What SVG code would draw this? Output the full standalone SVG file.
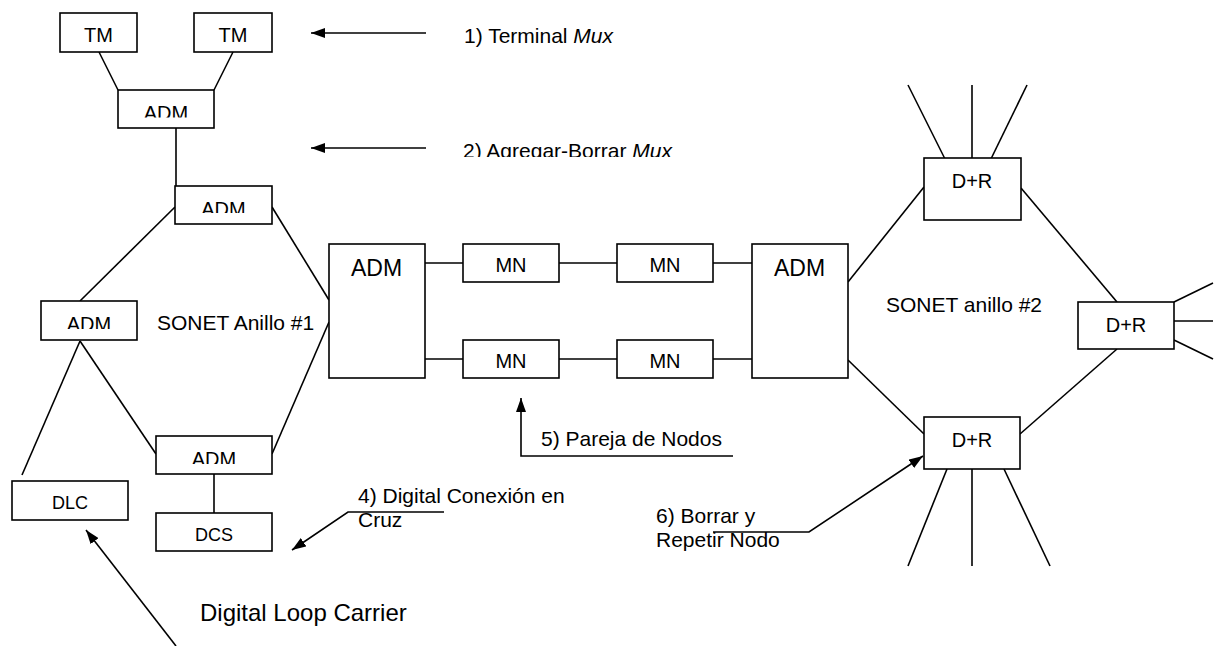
<svg xmlns="http://www.w3.org/2000/svg" width="1222" height="646" viewBox="0 0 1222 646">
<style>
.box{fill:#fff;stroke:#000;stroke-width:1.6}
.ln{fill:none;stroke:#000;stroke-width:1.6}
.t{font-family:"Liberation Sans",Arial,sans-serif;fill:#000}
.n{font-size:20px;text-anchor:middle}
.s{font-size:18px;text-anchor:middle}
.b{font-size:23px}
.l{font-size:21px}
</style>
<defs>
<marker id="ah" markerUnits="userSpaceOnUse" markerWidth="15" markerHeight="10" refX="14" refY="5" orient="auto">
<path d="M0,0 L14,5 L0,10 z" fill="#000"/>
</marker>
<clipPath id="c1" clipPathUnits="userSpaceOnUse"><rect x="118" y="90" width="96" height="27.5"/></clipPath>
<clipPath id="c2" clipPathUnits="userSpaceOnUse"><rect x="175" y="186" width="97" height="27"/></clipPath>
<clipPath id="c3" clipPathUnits="userSpaceOnUse"><rect x="41" y="301" width="96" height="28"/></clipPath>
<clipPath id="c4" clipPathUnits="userSpaceOnUse"><rect x="156" y="436" width="116" height="28"/></clipPath>
<clipPath id="c5" clipPathUnits="userSpaceOnUse"><rect x="440" y="120" width="300" height="37"/></clipPath>
</defs>
<rect width="1222" height="646" fill="#fff"/>
<g id="connectors">
<line class="ln" x1="99" y1="52" x2="118" y2="90"/>
<line class="ln" x1="233" y1="52" x2="214" y2="90"/>
<line class="ln" x1="176" y1="128" x2="176" y2="186"/>
<line class="ln" x1="175" y1="207" x2="80" y2="301"/>
<line class="ln" x1="272" y1="207" x2="329" y2="300"/>
<line class="ln" x1="80" y1="341" x2="22" y2="475"/>
<line class="ln" x1="80" y1="341" x2="156" y2="454"/>
<line class="ln" x1="272" y1="454" x2="329" y2="322"/>
<line class="ln" x1="214" y1="474" x2="214" y2="513"/>
<line class="ln" x1="425" y1="263" x2="463" y2="263"/>
<line class="ln" x1="559" y1="263" x2="617" y2="263"/>
<line class="ln" x1="713" y1="263" x2="752" y2="263"/>
<line class="ln" x1="425" y1="359" x2="463" y2="359"/>
<line class="ln" x1="559" y1="359" x2="617" y2="359"/>
<line class="ln" x1="713" y1="359" x2="752" y2="359"/>
<line class="ln" x1="848" y1="282" x2="924" y2="187"/>
<line class="ln" x1="848" y1="360" x2="924" y2="434"/>
<line class="ln" x1="1021" y1="188" x2="1117" y2="302"/>
<line class="ln" x1="1020" y1="434" x2="1117" y2="349"/>
<line class="ln" x1="947" y1="163" x2="908" y2="85"/>
<line class="ln" x1="972" y1="160" x2="972" y2="85"/>
<line class="ln" x1="989" y1="163" x2="1027" y2="85"/>
<line class="ln" x1="1174" y1="302" x2="1213" y2="283"/>
<line class="ln" x1="1174" y1="321" x2="1213" y2="321"/>
<line class="ln" x1="1174" y1="340" x2="1213" y2="359"/>
<line class="ln" x1="947" y1="469" x2="908" y2="566"/>
<line class="ln" x1="972" y1="469" x2="972" y2="566"/>
<line class="ln" x1="1004" y1="469" x2="1050" y2="566"/>
<line class="ln" x1="426" y1="33" x2="311" y2="33" marker-end="url(#ah)"/>
<line class="ln" x1="426" y1="148" x2="311" y2="148" marker-end="url(#ah)"/>
<path class="ln" d="M444,512 L348,512 L292,550" marker-end="url(#ah)"/>
<path class="ln" d="M733,456 L521,456 L521,398" marker-end="url(#ah)"/>
<path class="ln" d="M713,532 L809,532 L923,456" marker-end="url(#ah)"/>
<line class="ln" x1="176" y1="646" x2="86" y2="530" marker-end="url(#ah)"/>
</g>
<g id="tm1"><rect class="box" x="60" y="13" width="77" height="39"/><text class="t n" x="98.5" y="42">TM</text></g>
<g id="tm2"><rect class="box" x="194" y="13" width="78" height="39"/><text class="t n" x="233" y="42">TM</text></g>
<g id="adm-top"><rect class="box" x="118" y="90" width="96" height="38"/><text class="t n" x="166" y="120" clip-path="url(#c1)">ADM</text></g>
<g id="adm-ring-top"><rect class="box" x="175" y="186" width="97" height="38"/><text class="t n" x="223.5" y="216" clip-path="url(#c2)">ADM</text></g>
<g id="adm-left"><rect class="box" x="41" y="301" width="96" height="39"/><text class="t n" x="89" y="331" clip-path="url(#c3)">ADM</text></g>
<g id="adm-bottom"><rect class="box" x="156" y="436" width="116" height="38"/><text class="t n" x="214" y="466" clip-path="url(#c4)">ADM</text></g>
<g id="dlc"><rect class="box" x="12" y="481" width="116" height="39"/><text class="t s" x="70" y="509">DLC</text></g>
<g id="dcs"><rect class="box" x="156" y="513" width="116" height="38"/><text class="t s" x="214" y="541">DCS</text></g>
<g id="adm-big-left"><rect class="box" x="329" y="244" width="96" height="134"/><text class="t b" x="351" y="276">ADM</text></g>
<g id="adm-big-right"><rect class="box" x="752" y="244" width="96" height="134"/><text class="t b" x="774" y="276">ADM</text></g>
<g id="mn1"><rect class="box" x="463" y="244" width="96" height="38"/><text class="t n" x="511" y="272">MN</text></g>
<g id="mn2"><rect class="box" x="617" y="244" width="96" height="38"/><text class="t n" x="665" y="272">MN</text></g>
<g id="mn3"><rect class="box" x="463" y="340" width="96" height="38"/><text class="t n" x="511" y="368">MN</text></g>
<g id="mn4"><rect class="box" x="617" y="340" width="96" height="38"/><text class="t n" x="665" y="368">MN</text></g>
<g id="dr-top"><rect class="box" x="924" y="158" width="97" height="62"/><text class="t n" x="972" y="188">D+R</text></g>
<g id="dr-right"><rect class="box" x="1078" y="302" width="96" height="47"/><text class="t n" x="1126" y="332">D+R</text></g>
<g id="dr-bottom"><rect class="box" x="924" y="417" width="96" height="52"/><text class="t n" x="972" y="447">D+R</text></g>
<g id="labels">
<text class="t l" x="464" y="43">1) Terminal <tspan font-style="italic">Mux</tspan></text>
<text class="t l" x="463" y="158" clip-path="url(#c5)">2) Agregar-Borrar <tspan font-style="italic">Mux</tspan></text>
<text class="t l" x="157" y="330">SONET Anillo #1</text>
<text class="t l" x="886" y="312">SONET anillo #2</text>
<text class="t l" x="541" y="446">5) Pareja de Nodos</text>
<text class="t l" x="358" y="503">4) Digital Conexión en</text>
<text class="t l" x="358" y="527">Cruz</text>
<text class="t l" x="656" y="523">6) Borrar y</text>
<text class="t l" x="656" y="547">Repetir Nodo</text>
<text class="t" font-size="24" x="200" y="621">Digital Loop Carrier</text>
</g>
</svg>
